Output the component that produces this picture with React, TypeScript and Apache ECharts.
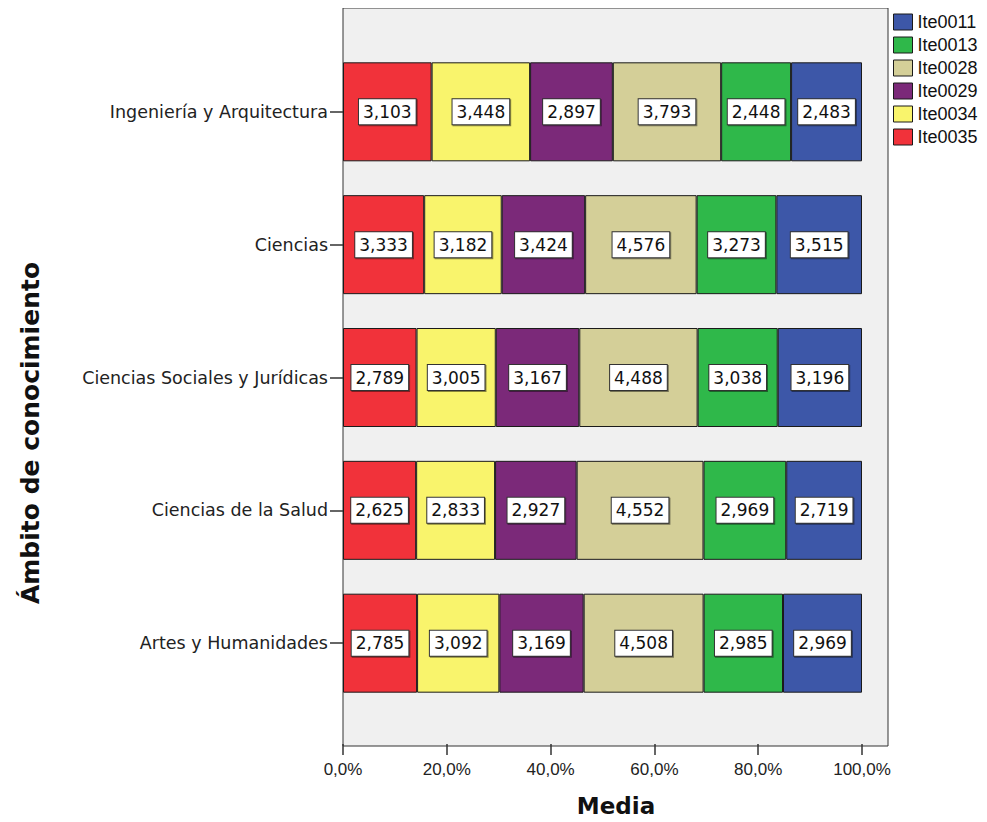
import React, { useEffect, useRef } from "react";
import * as echarts from "echarts";

const categories = [
  "Ingeniería y Arquitectura",
  "Ciencias",
  "Ciencias Sociales y Jurídicas",
  "Ciencias de la Salud",
  "Artes y Humanidades",
];

// stacking order, left to right
const seriesNames = ["Ite0035", "Ite0034", "Ite0029", "Ite0028", "Ite0013", "Ite0011"];
const seriesColors = ["#F1323A", "#F9F46C", "#7B2979", "#D4CF98", "#2FB84A", "#3D57A8"];

const ite0035 = [3.103, 3.333, 2.789, 2.625, 2.785];
const ite0034 = [3.448, 3.182, 3.005, 2.833, 3.092];
const ite0029 = [2.897, 3.424, 3.167, 2.927, 3.169];
const ite0028 = [3.793, 4.576, 4.488, 4.552, 4.508];
const ite0013 = [2.448, 3.273, 3.038, 2.969, 2.985];
const ite0011 = [2.483, 3.515, 3.196, 2.719, 2.969];

const legendOrder = ["Ite0011", "Ite0013", "Ite0028", "Ite0029", "Ite0034", "Ite0035"];
const xTicks = [0, 20, 40, 60, 80, 100];

const ARIAL = "'Liberation Sans', Arial, sans-serif";
const WIDE = "'DejaVu Sans', Verdana, sans-serif";

export default function App() {
  const ref = useRef<HTMLDivElement>(null);
  useEffect(() => {
    if (!ref.current) return;
    const chart = echarts.init(ref.current, undefined, { renderer: "svg" });
    const raw = [ite0035, ite0034, ite0029, ite0028, ite0013, ite0011];
    const totals = categories.map((_, i) => raw.reduce((s, arr) => s + arr[i], 0));

    const series = seriesNames.map((name, si) => ({
      name,
      type: "bar",
      stack: "total",
      barWidth: 99,
      itemStyle: { color: seriesColors[si], borderColor: "#1a1a1a", borderWidth: 1 },
      label: {
        show: true,
        position: "inside",
        formatter: (p: any) => raw[si][p.dataIndex].toFixed(3).replace(".", ","),
        color: "#111",
        fontFamily: WIDE,
        fontSize: 17,
        lineHeight: 20,
        backgroundColor: "#ffffff",
        borderColor: "#333",
        borderWidth: 1,
        padding: [3, 4, 2, 4],
        shadowColor: "rgba(0,0,0,0.45)",
        shadowOffsetX: 1,
        shadowOffsetY: 1,
      },
      data: raw[si].map((v, i) => (v / totals[i]) * 100),
    }));

    chart.setOption({
      animation: false,
      textStyle: { fontFamily: ARIAL },
      grid: { left: 343, right: 125, top: 45.4, bottom: 110.4, containLabel: false },
      legend: {
        data: legendOrder,
        orient: "vertical",
        left: 888,
        top: 8,
        icon: "rect",
        itemWidth: 19,
        itemHeight: 16,
        itemGap: 5,
        textStyle: { fontFamily: ARIAL, fontSize: 18, lineHeight: 16, color: "#111" },
        itemStyle: { borderColor: "#1a1a1a", borderWidth: 1 },
      },
      graphic: [
        {
          type: "rect",
          z: -10,
          shape: { x: 343, y: 8, width: 545, height: 738 },
          style: { fill: "#F0F0F0", stroke: "#333", lineWidth: 1 },
          silent: true,
        },
        {
          type: "text",
          x: 30,
          y: 433,
          rotation: Math.PI / 2,
          style: {
            text: "Ámbito de conocimiento",
            fontFamily: WIDE,
            fontSize: 25,
            fontWeight: "bold",
            fill: "#111",
            textAlign: "center",
            textVerticalAlign: "middle",
          },
        },
      ],
      xAxis: {
        type: "value",
        min: 0,
        max: 100,
        interval: 20,
        offset: 34.4,
        name: "Media",
        nameLocation: "middle",
        nameGap: 50,
        nameTextStyle: { fontFamily: WIDE, fontSize: 23, fontWeight: "bold", color: "#111", padding: [0, 0, 0, 27] },
        axisLine: { show: false },
        axisTick: { show: true, length: 11, lineStyle: { color: "#333", width: 1.5 }, customValues: xTicks },
        axisLabel: {
          customValues: xTicks,
          formatter: (v: number) => v.toFixed(1).replace(".", ",") + "%",
          fontFamily: ARIAL,
          fontSize: 17,
          color: "#222",
          margin: 17,
        },
        splitLine: { show: false },
      },
      yAxis: {
        type: "category",
        inverse: true,
        data: categories,
        axisLine: { show: false },
        axisTick: { show: true, alignWithLabel: true, length: 13, lineStyle: { color: "#333", width: 1.5 } },
        axisLabel: { fontFamily: WIDE, fontSize: 17.5, color: "#222", margin: 15 },
      },
      series,
    });
    return () => chart.dispose();
  }, []);
  return <div ref={ref} style={{ width: 987, height: 822, margin: -8 }} />;
}
